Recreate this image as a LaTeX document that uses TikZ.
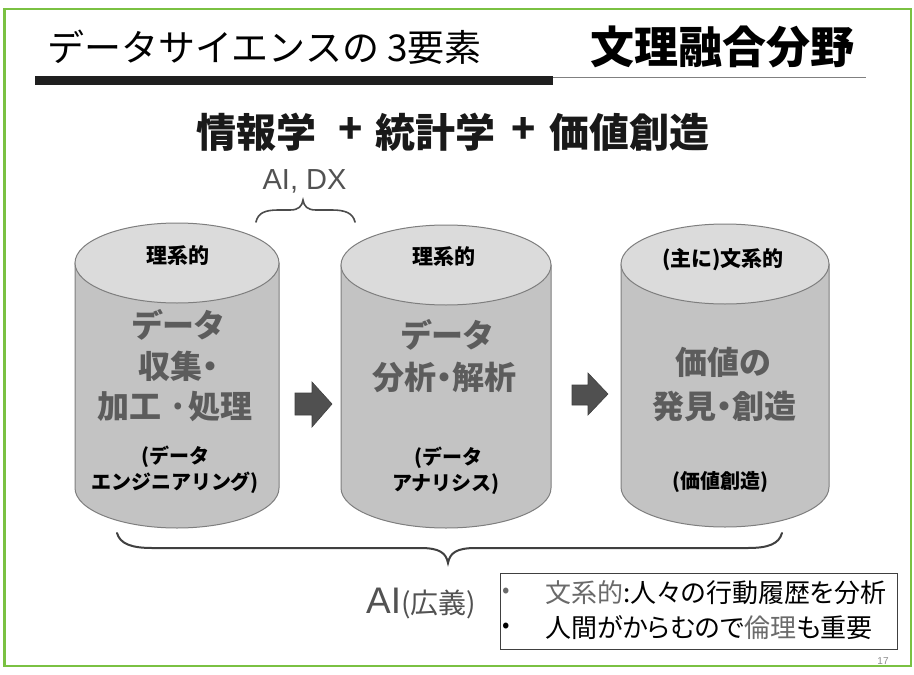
\documentclass[tikz,border=0pt]{standalone}
\usepackage{fontspec}
\setmainfont{Noto Sans CJK JP}
\newfontfamily\jp{Noto Sans CJK JP}
\newfontfamily\jpp{Noto Sans CJK JP}[RawFeature=+palt]
\newfontfamily\lat{Liberation Sans}
\newcommand\fs[1]{\fontsize{#1}{#1}\selectfont}
\definecolor{framegreen}{HTML}{7AC142}
\definecolor{bodyg}{HTML}{C3C3C3}
\definecolor{topg}{HTML}{DBDBDB}
\definecolor{edgeg}{HTML}{7E7E7E}
\definecolor{bigtxt}{HTML}{5C5C5C}
\definecolor{arrowg}{HTML}{505050}
\definecolor{softg}{HTML}{6A6A6A}
\newcommand\mycyl[5]{% name, cx, rx, ytop-centre, ybottom-centre (ry = 40)
  \path[fill=bodyg,draw=edgeg,line width=1pt]
    ({#2-#3},#4) -- ({#2-#3},#5)
    .. controls ({#2-#3},{#5+22}) and ({#2-0.5523*#3},{#5+40}) .. (#2,{#5+40})
    .. controls ({#2+0.5523*#3},{#5+40}) and ({#2+#3},{#5+22}) .. ({#2+#3},#5)
    -- ({#2+#3},#4) -- cycle;
  \path[fill=topg,draw=edgeg,line width=1pt] (#2,#4) ellipse [x radius=#3pt, y radius=40pt];
  \coordinate (#1) at (#2,{(#4+#5)/2});
}
\tikzset{
  small/.style={font=\jp\bfseries\fs{21}, text=black, inner sep=0pt},
  big/.style={font=\jpp\bfseries\fs{32}, text=bigtxt, inner sep=0pt},
  paren/.style={font=\jp\bfseries\fs{20}, text=black, inner sep=0pt},
  sub/.style={font=\jp\bfseries\fs{40}, text=black!90, inner sep=0pt},
  blockarrow/.style={fill=arrowg, draw=black!75, line width=0.6pt},
  bracestyle/.style={draw=black!75, line width=2pt, line cap=round},
}
\begin{document}
\begin{tikzpicture}[x=1pt,y=-1pt]
\useasboundingbox (0,0) rectangle (914,675);
\fill[white] (0,0) rectangle (914,675);
% frame
\draw[framegreen, line width=2.5pt] (4.5,9) rectangle (911,666);
% title
\node[anchor=west, font=\jp\fs{37}, inner sep=0pt] (title) at (47,47) {データサイエンスの 3要素};
\node[font=\jp\bfseries\fs{44}, inner sep=0pt] (field) at (722,47) {文理融合分野};
\fill[black!88] (35,76) rectangle (553,85);
\draw[black!50, line width=1.5pt] (553,77.5) -- (866,77.5);
% subtitle
\node[sub] (s1) at (256,132) {情報学};
\node[sub] (p1) at (351,130) {+};
\node[sub] (s2) at (435,132) {統計学};
\node[sub] (p2) at (524,130) {+};
\node[sub] (s3) at (629,132) {価値創造};
% AI, DX
\node[font=\lat\fs{29}, text=black!68, inner sep=0pt] (aidx) at (304.5,181) {AI, DX};
\coordinate (tb1) at (256,222);
\coordinate (tb2) at (355,222);
\coordinate (tbtip) at (303,200);
\draw[draw=black!70, line width=1.6pt, line cap=round]
  (tb1) .. controls (258,213) and (265,210) .. (278,210) -- (290,210)
  .. controls (299,210) and (302,206) .. (tbtip)
  .. controls (304,206) and (307,210) .. (316,210) -- (332,210)
  .. controls (345,210) and (353,213) .. (tb2);
% cylinders
\mycyl{A}{177}{102}{263}{488}
\mycyl{B}{446}{105}{265}{488}
\mycyl{C}{725}{104}{264}{487}
% cylinder A texts
\node[small] (a0) at (178,256) {理系的};
\node[big] (a1) at (178,325) {データ};
\node[big] (a2) at (178,366) {収集・};
\node[big] (a3) at (175,407) {加工 ·処理};
\node[paren] (a4) at (175,457) {(データ};
\node[paren] (a5) at (175,483) {エンジニアリング)};
% cylinder B texts
\node[small] (b0) at (444,257) {理系的};
\node[big] (b1) at (447,335) {データ};
\node[big] (b2) at (444,377) {分析・解析};
\node[paren] (b4) at (448,458) {(データ};
\node[paren] (b5) at (446,484) {アナリシス)};
% cylinder C texts
\node[small] (c0) at (723,260) {(主に)文系的};
\node[big] (c1) at (723,362) {価値の};
\node[big] (c2) at (724,406) {発見・創造};
\node[paren] (c4) at (720,482) {(価値創造)};
% block arrows
\path[blockarrow] (295,393) -- (312,393) -- (312,382) -- (332,404) -- (312,427) -- (312,415) -- (295,415) -- cycle;
\path[blockarrow] (572,385) -- (588,385) -- (588,373) -- (608,394) -- (588,415) -- (588,405) -- (572,405) -- cycle;
% bottom brace
\coordinate (bb1) at (117,533);
\coordinate (bb2) at (782,533);
\coordinate (bbtip) at (448,563);
\draw[bracestyle]
  (bb1) .. controls (120,544) and (132,548) .. (152,548) -- (420,548)
  .. controls (440,548) and (446,553) .. (bbtip)
  .. controls (450,553) and (456,548) .. (476,548) -- (748,548)
  .. controls (768,548) and (779,544) .. (bb2);
% AI (broad)
\node[anchor=base west, inner sep=0pt, text=black!68] (aib) at (366,613) {{\lat\fs{37}AI}{\jp\fs{28}(広義)}};
% box
\node[draw=black!75, line width=1pt, minimum width=397pt, minimum height=76pt, inner sep=0pt] (box) at (698.5,611) {};
\node[font=\jp\fs{22}, text=softg, inner sep=0pt] (d1) at (506,593) {•};
\node[font=\jp\fs{22}, inner sep=0pt] (d2) at (506,628) {•};
\node[anchor=west, font=\jpp\fs{26}, inner sep=0pt] (l1) at (545,593) {\textcolor{softg}{文系的}:人々の行動履歴を分析};
\node[anchor=west, font=\jpp\fs{26}, inner sep=0pt] (l2) at (545,628) {人間がからむので\textcolor{softg}{倫理}も重要};
% page number
\node[font=\lat\fs{10}, text=black!45, inner sep=0pt] (pg) at (883,661) {17};
\end{tikzpicture}
\end{document}
